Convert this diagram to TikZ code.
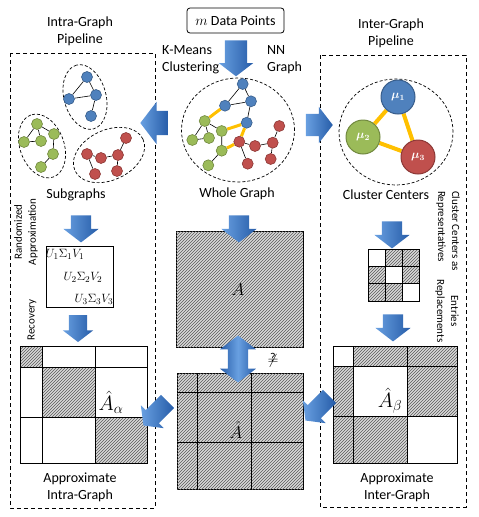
\documentclass[tikz,border=0pt]{standalone}
\usepackage{fontspec}
\setmainfont{Carlito}
\usetikzlibrary{shapes.geometric,shapes.arrows,patterns,backgrounds}

\definecolor{gblue}{RGB}{79,129,189}
\definecolor{gbluedark}{RGB}{56,93,138}
\definecolor{ggreen}{RGB}{155,187,89}
\definecolor{ggreendark}{RGB}{113,137,63}
\definecolor{gred}{RGB}{192,80,77}
\definecolor{greddark}{RGB}{140,56,54}
\definecolor{linkyellow}{RGB}{255,192,0}
\definecolor{arrowlight}{RGB}{105,160,225}
\definecolor{arrowdark}{RGB}{38,92,168}

\tikzset{
  vb/.style={circle, draw=gbluedark, fill=gblue, minimum size=11pt, inner sep=0pt, line width=0.6pt},
  vg/.style={circle, draw=ggreendark, fill=ggreen, minimum size=11pt, inner sep=0pt, line width=0.6pt},
  vr/.style={circle, draw=greddark, fill=gred, minimum size=11pt, inner sep=0pt, line width=0.6pt},
  edge/.style={line width=0.6pt},
  link/.style={linkyellow, line width=3pt},
  group/.style={ellipse, draw, dash pattern=on 3pt off 2pt, line width=0.7pt, inner sep=0pt},
  panel/.style={draw, dash pattern=on 4pt off 3pt, line width=0.8pt},
  hatch/.style={fill=gray!30, postaction={pattern=north east lines, pattern color=gray!70!black}},
  barrow/.style={single arrow, draw=none, left color=arrowlight, right color=arrowdark,
    inner xsep=0pt, inner ysep=10pt, single arrow head extend=7.5pt,
    single arrow tip angle=105, minimum height=27pt},
  txt/.style={align=center, font=\fontsize{14}{17}\selectfont},
  small/.style={align=center, font=\fontsize{11}{14}\selectfont},
  mustyle/.style={circle, minimum size=34pt, inner sep=0pt, line width=1pt, text=white,
    font=\fontsize{12}{14}\selectfont\boldmath}
}

\begin{document}
\begin{tikzpicture}[x=1pt, y=-1pt]
    \useasboundingbox (0,0) rectangle (479,517);

    % titles and panels
    \node[draw, rounded corners=3pt, line width=0.8pt, minimum width=97pt, minimum height=25pt,
      font=\fontsize{14}{17}\selectfont] (data) at (235.5,20.5) {$m$ Data Points};
    \node[txt] (intratitle) at (80,31) {Intra-Graph\\Pipeline};
    \node[txt] (intertitle) at (391,33) {Inter-Graph\\Pipeline};
    \node[txt, align=left, anchor=west, inner sep=0pt] (kmeans) at (162,60) {K-Means\\Clustering};
    \node[txt, align=left, anchor=west, inner sep=0pt] (nngraph) at (267,60) {NN\\Graph};
    \draw[panel] (10,53) rectangle (155,508);
    \draw[panel] (320,55) rectangle (466,507);

    % whole graph
    \node[group, minimum width=113pt, minimum height=104pt] (whole) at (238,130) {};
    \node[vb] (wb1) at (242.7,84) {};
    \node[vb] (wb2) at (225,105.7) {};
    \node[vb] (wb3) at (251,101.3) {};
    \node[vb] (wb4) at (246.7,122.7) {};
    \node[vg] (wg1) at (204.7,121) {};
    \node[vg] (wg2) at (221.7,131) {};
    \node[vg] (wg3) at (192.3,140) {};
    \node[vg] (wg4) at (209,138) {};
    \node[vg] (wg5) at (221.7,150.7) {};
    \node[vg] (wg6) at (208.3,165.3) {};
    \node[vr] (wr1) at (239.3,141.7) {};
    \node[vr] (wr2) at (255,146) {};
    \node[vr] (wr3) at (272.7,142.7) {};
    \node[vr] (wr4) at (279.3,126) {};
    \node[vr] (wr5) at (270.7,159) {};
    \node[vr] (wr6) at (247.7,163.7) {};
    \begin{pgfonlayer}{background}
    \draw[link] (wb2) -- (wg1);
    \draw[link] (wg2) -- (wb4);
    \draw[link] (wb4) -- (wr1);
    \draw[link] (wg5) -- (wr1);
    \draw[edge] (wb1) -- (wb2) -- (wb3) -- (wb1);
    \draw[edge] (wb3) -- (wb4);
    \draw[edge] (wg1) -- (wg3) -- (wg4) -- (wg1) -- (wg2) -- (wg5) -- (wg6);
    \draw[edge] (wr1) -- (wr2) -- (wr3) -- (wr4);
    \draw[edge] (wr3) -- (wr5);
    \draw[edge] (wr1) -- (wr6);
    \end{pgfonlayer}
    \node[txt] (wholelabel) at (237,194) {Whole Graph};

    % subgraphs
    \node[group, minimum width=66pt, minimum height=42pt, rotate=105] (sblue) at (85,97) {};
    \node[group, minimum width=66pt, minimum height=44pt, rotate=110] (sgreen) at (42,146) {};
    \node[group, minimum width=75pt, minimum height=50pt, rotate=25] (sred) at (109,155) {};
    \node[vb] (b1) at (87,77) {};
    \node[vb] (b2) at (69,99) {};
    \node[vb] (b3) at (96,95) {};
    \node[vb] (b4) at (91,116) {};
    \node[vg] (g1) at (37,124) {};
    \node[vg] (g2) at (54,134) {};
    \node[vg] (g3) at (24,142) {};
    \node[vg] (g4) at (41,141) {};
    \node[vg] (g5) at (53,154) {};
    \node[vg] (g6) at (41,167) {};
    \node[vr] (r1) at (87,154) {};
    \node[vr] (r2) at (101,158) {};
    \node[vr] (r3) at (118,155) {};
    \node[vr] (r4) at (126,138) {};
    \node[vr] (r5) at (117,171) {};
    \node[vr] (r6) at (95,174) {};
    \begin{pgfonlayer}{background}
    \draw[edge] (b1) -- (b2) -- (b3) -- (b1);
    \draw[edge] (b3) -- (b4);
    \draw[edge] (g1) -- (g3) -- (g4) -- (g1) -- (g2) -- (g5) -- (g6);
    \draw[edge] (r4) -- (r3) -- (r2) -- (r1) -- (r6);
    \draw[edge] (r3) -- (r5);
    \end{pgfonlayer}
    \node[txt] (sublabel) at (76,195) {Subgraphs};

    % cluster centers
    \node[group, minimum width=114pt, minimum height=106pt] (centers) at (396,132) {};
    \node[mustyle, draw=gbluedark, fill=gblue] (mu1) at (398,97) {$\mu_1$};
    \node[mustyle, draw=ggreendark, fill=ggreen] (mu2) at (363,137) {$\mu_2$};
    \node[mustyle, draw=greddark, fill=gred] (mu3) at (418,157) {$\mu_3$};
    \begin{pgfonlayer}{background}
    \draw[link, line width=4pt] (mu1) -- (mu2);
    \draw[link, line width=4pt] (mu2) -- (mu3);
    \draw[link, line width=4pt] (mu3) -- (mu1);
    \end{pgfonlayer}
    \node[txt] (centerlabel) at (386,195) {Cluster Centers};

    % rotated side notes
    \node[small, rotate=90] (randapprox) at (26,232) {Randomized\\Approximation};
    \node[small, rotate=90] (recovery) at (32,320) {Recovery};
    \node[small, rotate=-90, align=left] (ccrep) at (448,231) {Cluster Centers as\\Representatives};
    \node[small, rotate=-90] (entries) at (447,311) {Entries\\Replacements};

    % low rank factors
    \draw[line width=0.8pt] (46,246) rectangle (113,307);
    \node[font=\fontsize{12.5}{14}\selectfont] (usv1) at (65,254) {$U_1\Sigma_1V_1$};
    \node[font=\fontsize{12.5}{14}\selectfont] (usv2) at (83,277) {$U_2\Sigma_2V_2$};
    \node[font=\fontsize{12.5}{14}\selectfont] (usv3) at (94,299) {$U_3\Sigma_3V_3$};

    % matrix A
    \draw[hatch, line width=0.8pt] (176,231) rectangle (303,347);
    \node[font=\fontsize{16}{18}\selectfont] (amat) at (238,290) {$A$};

    % approximate intra-graph
    \draw[hatch] (20,346) rectangle (42,367);
    \draw[hatch] (42,367) rectangle (95,417);
    \draw[hatch] (95,417) rectangle (147,463);
    \draw[line width=0.8pt] (20,346) rectangle (147,463);
    \draw[line width=0.8pt] (42,346) -- (42,463);
    \draw[line width=0.8pt] (95,346) -- (95,463);
    \draw[line width=0.8pt] (20,367) -- (147,367);
    \draw[line width=0.8pt] (20,417) -- (147,417);
    \node[font=\fontsize{20}{22}\selectfont] (aalpha) at (111,402) {$\hat{A}_\alpha$};
    \node[txt] (intralabel) at (80,487) {Approximate\\Intra-Graph};

    % combined approximation
    \draw[hatch, line width=0.8pt] (177,373) rectangle (303,489);
    \draw[line width=0.8pt] (197,373) -- (197,489);
    \draw[line width=0.8pt] (251,373) -- (251,489);
    \draw[line width=0.8pt] (177,392) -- (303,392);
    \draw[line width=0.8pt] (177,442) -- (303,442);
    \node[font=\fontsize{16}{18}\selectfont] (ahat) at (236,430) {$\hat{A}$};
    \node[font=\fontsize{15}{17}\selectfont] (neq) at (273,360)
      {\ooalign{\hfil\raisebox{0.45ex}{\fontsize{12}{12}\selectfont ?}\hfil\cr$\neq$\cr}};

    % small replacement grid
    \draw[hatch] (385,249) rectangle (419,266);
    \draw[hatch] (368,266) rectangle (385,283);
    \draw[hatch] (402,266) rectangle (419,283);
    \draw[hatch] (368,283) rectangle (402,301);
    \draw[line width=0.8pt] (368,249) rectangle (419,301);
    \draw[line width=0.8pt] (385,249) -- (385,301);
    \draw[line width=0.8pt] (402,249) -- (402,301);
    \draw[line width=0.8pt] (368,266) -- (419,266);
    \draw[line width=0.8pt] (368,283) -- (419,283);

    % approximate inter-graph
    \draw[hatch] (353,346) rectangle (457,366);
    \draw[hatch] (333,366) rectangle (353,416);
    \draw[hatch] (407,366) rectangle (457,416);
    \draw[hatch] (333,416) rectangle (407,463);
    \draw[line width=0.8pt] (333,346) rectangle (457,463);
    \draw[line width=0.8pt] (353,346) -- (353,463);
    \draw[line width=0.8pt] (407,346) -- (407,463);
    \draw[line width=0.8pt] (333,366) -- (457,366);
    \draw[line width=0.8pt] (333,416) -- (457,416);
    \node[font=\fontsize{20}{22}\selectfont] (abeta) at (390,401) {$\hat{A}_\beta$};
    \node[txt] (interlabel) at (397,487) {Approximate\\Inter-Graph};

    % block arrows
    \node[barrow, rotate=-90, minimum height=36pt, inner ysep=11pt, single arrow head extend=6pt] (adata) at (236,54) {};
    \node[barrow, rotate=180, minimum height=28pt, inner ysep=12pt, single arrow head extend=9pt] (aleft) at (159,123) {};
    \node[barrow, minimum height=27pt, inner ysep=11pt, single arrow head extend=7pt] (aright) at (315,125) {};
    \node[barrow, rotate=-90] (adown1) at (81,225) {};
    \node[barrow, rotate=-90, inner ysep=9pt, single arrow head extend=6pt] (adown2) at (78,325) {};
    \node[barrow, rotate=-90] (adown3) at (239,225) {};
    \node[double arrow, rotate=90, left color=arrowdark, right color=arrowdark, middle color=arrowlight,
      minimum height=47pt, inner xsep=0pt, inner ysep=10pt, double arrow head extend=8pt,
      double arrow tip angle=105] (adouble) at (238,359) {};
    \node[barrow, rotate=-90] (adown4) at (392,231) {};
    \node[barrow, rotate=-90] (adown5) at (393,324) {};
    \node[barrow, rotate=-135, minimum height=34pt, inner ysep=9pt, single arrow head extend=7pt] (adiag1) at (158,411) {};
    \node[barrow, rotate=-135, minimum height=34pt, inner ysep=9pt, single arrow head extend=7pt] (adiag2) at (320,406) {};
\end{tikzpicture}
\end{document}
